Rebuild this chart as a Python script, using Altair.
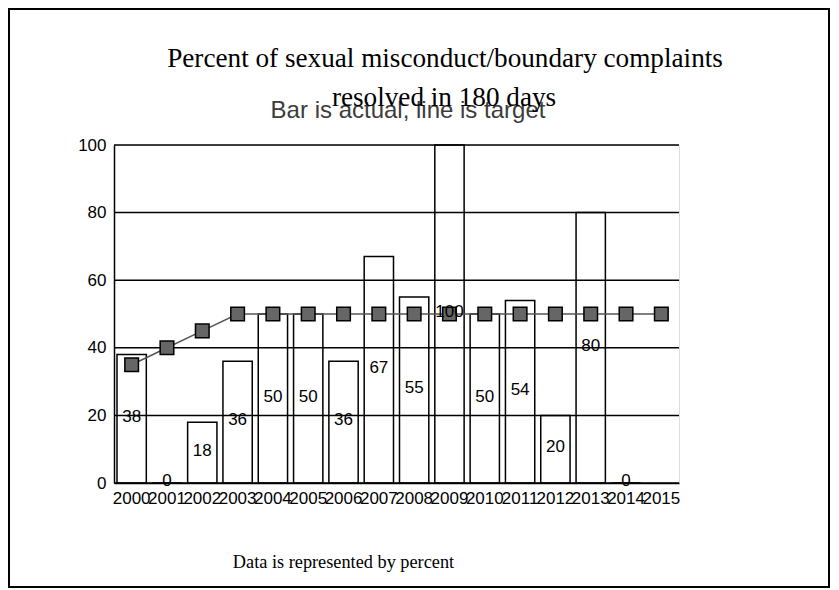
import altair as alt
import pandas as pd

years = ["2000", "2001", "2002", "2003", "2004", "2005", "2006", "2007",
         "2008", "2009", "2010", "2011", "2012", "2013", "2014", "2015"]
actual = [38, 0, 18, 36, 50, 50, 36, 67, 55, 100, 50, 54, 20, 80, 0, None]
target = [35, 40, 45, 50, 50, 50, 50, 50, 50, 50, 50, 50, 50, 50, 50, 50]
y_ticks = [0, 20, 40, 60, 80, 100]

title_lines = ["Percent of sexual misconduct/boundary complaints", "resolved in 180 days"]
subtitle = "Bar is actual, line is target"
footer = "Data is represented by percent"

df = pd.DataFrame({"year": years, "actual": actual, "target": target})

SANS = "Liberation Sans"
SERIF = "Liberation Serif"

x_enc = alt.X(
    "year:N",
    sort=years,
    scale=alt.Scale(paddingInner=0.17, paddingOuter=0.085),
    axis=alt.Axis(
        title=None, labelAngle=0, ticks=False, tickSize=0, labelPadding=7,
        labelFontSize=17, labelFont=SANS, labelColor="black",
        domainColor="black", domainWidth=1.5, labelOverlap=False,
        labelBound=False, grid=False,
    ),
)
y_scale = alt.Scale(domain=[0, 100], nice=False)
y_axis = alt.Axis(
    title=None, values=y_ticks, grid=False,
    ticks=False, tickSize=0, labelPadding=8, labelFontSize=17, labelFont=SANS,
    labelColor="black", domainColor="black", domainWidth=1.5,
)

base = alt.Chart(df)

bars = base.mark_bar(fill="white", stroke="black", strokeWidth=1.5).encode(
    x=x_enc,
    y=alt.Y("actual:Q", scale=y_scale, axis=y_axis),
)

grid = alt.Chart(pd.DataFrame({"v": y_ticks})).mark_rule(
    color="black", strokeWidth=1.5
).encode(y=alt.Y("v:Q", scale=y_scale))

line = base.mark_line(color="#555555", strokeWidth=1.5).encode(
    x=x_enc, y=alt.Y("target:Q", scale=y_scale)
)

points = base.mark_square(
    size=185, fill="#666666", stroke="black", strokeWidth=1.5, opacity=1
).encode(x=x_enc, y=alt.Y("target:Q", scale=y_scale))

labels = (
    base.transform_filter("datum.actual != null")
    .transform_calculate(mid="datum.actual / 2")
    .mark_text(fontSize=17, font=SANS, baseline="middle", dy=-2, color="black")
    .encode(x=x_enc, y=alt.Y("mid:Q", scale=y_scale), text="actual:Q")
)

one = pd.DataFrame({"a": [0]})

frame = alt.Chart(one).mark_rect(
    fill="white", fillOpacity=0, stroke="black", strokeWidth=2
).encode(
    x=alt.value(-105), x2=alt.value(715), y=alt.value(-136), y2=alt.value(442)
)

t1 = alt.Chart(pd.DataFrame({"t": [title_lines[0]]})).mark_text(
    font=SERIF, fontSize=27.2, align="center", baseline="alphabetic", color="black"
).encode(text="t:N", x=alt.value(331), y=alt.value(-78))

t2 = alt.Chart(pd.DataFrame({"t": [title_lines[1]]})).mark_text(
    font=SERIF, fontSize=27.2, align="center", baseline="alphabetic", color="black"
).encode(text="t:N", x=alt.value(330), y=alt.value(-39))

sub = alt.Chart(pd.DataFrame({"t": [subtitle]})).mark_text(
    font=SANS, fontSize=24, align="center", baseline="alphabetic", color="#3c3c3c"
).encode(text="t:N", x=alt.value(294), y=alt.value(-27))

foot = alt.Chart(pd.DataFrame({"t": [footer]})).mark_text(
    font=SERIF, fontSize=18.3, align="center", baseline="alphabetic", color="black"
).encode(text="t:N", x=alt.value(229.5), y=alt.value(423))

chart = alt.layer(
    frame, bars, grid, line, points, labels, sub, t1, t2, foot
).properties(
    width=565,
    height=338,
    padding={"left": 106, "top": 137, "right": 152, "bottom": 106},
    autosize=alt.AutoSizeParams(type="none"),
).configure_view(
    stroke="black", strokeWidth=1.5
).configure(background="white")

chart.save("out.html", embed_options={"renderer": "svg", "actions": False})
